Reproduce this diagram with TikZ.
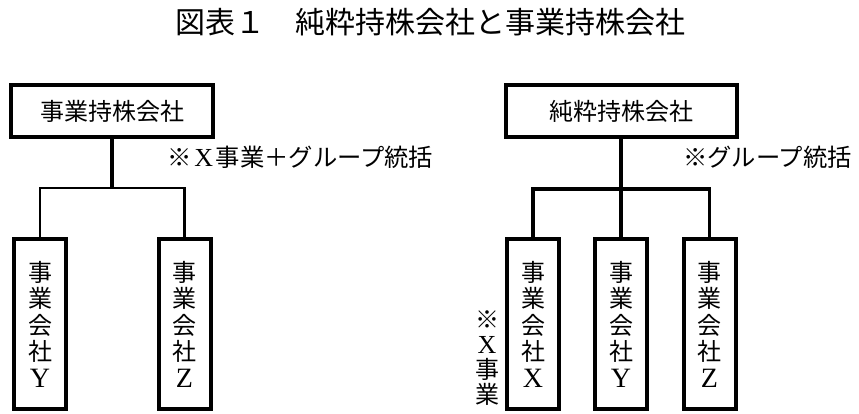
\documentclass[tikz,border=0pt]{standalone}
\usepackage{fontspec}
\setmainfont{Liberation Serif}
\newfontfamily\jp{Noto Sans CJK JP}
\newcommand\lat[1]{{\rmfamily\fontsize{28}{24}\selectfont #1}}
\tikzset{
  parentbox/.style={draw, line width=4pt, inner sep=0pt, minimum width=202pt, minimum height=52pt, font=\jp\fontsize{24}{24}\selectfont},
  childbox/.style={draw, line width=4pt, inner sep=0pt, minimum width=52pt, minimum height=170pt, align=center, font=\jp\fontsize{24}{26.5}\selectfont},
  note/.style={inner sep=0pt, font=\jp\fontsize{24.3}{24}\selectfont},
  stem/.style={line width=4pt},
  bus/.style={line width=2.6pt},
  busR/.style={line width=3.6pt},
}
\begin{document}
\begin{tikzpicture}[x=1pt,y=1pt]
\useasboundingbox (0,0) rectangle (859,414);
\node[inner sep=0pt, font=\jp\fontsize{30}{30}\selectfont] (title) at (430,392) {図表１　純粋持株会社と事業持株会社};

\node[parentbox] (hL) at (112,303) {事業持株会社};
\coordinate (jL) at (112,226);
\node[childbox] (cLY) at (40,90) {事\\業\\会\\社\\\lat{Y}};
\node[childbox] (cLZ) at (184.5,90) {事\\業\\会\\社\\\lat{Z}};
\node[note, anchor=west] (nL) at (167,257) {※\makebox[1em]{\rmfamily\fontsize{26}{24}\selectfont X}事業＋グループ統括};
\draw[stem] (hL.south) -- (jL);
\draw[bus] (cLY.north) |- (jL) -| (cLZ.north);

\node[parentbox, minimum width=231pt] (hR) at (621,303) {純粋持株会社};
\coordinate (jR) at (621,225);
\node[childbox] (cRX) at (533,90) {事\\業\\会\\社\\\lat{X}};
\node[childbox] (cRY) at (621,90) {事\\業\\会\\社\\\lat{Y}};
\node[childbox] (cRZ) at (709.5,90) {事\\業\\会\\社\\\lat{Z}};
\node[note, anchor=west] (nR) at (683,257) {※グループ統括};
\node[note, align=center, font=\jp\fontsize{24}{25}\selectfont] (nX) at (487,56) {※\\{\rmfamily\fontsize{26}{25}\selectfont X}\\事\\業};
\draw[stem] (hR.south) -- (jR);
\draw[busR] (cRX.north) |- (jR) -| (cRZ.north);
\draw[busR] (jR) -- (cRY.north);
\end{tikzpicture}
\end{document}
